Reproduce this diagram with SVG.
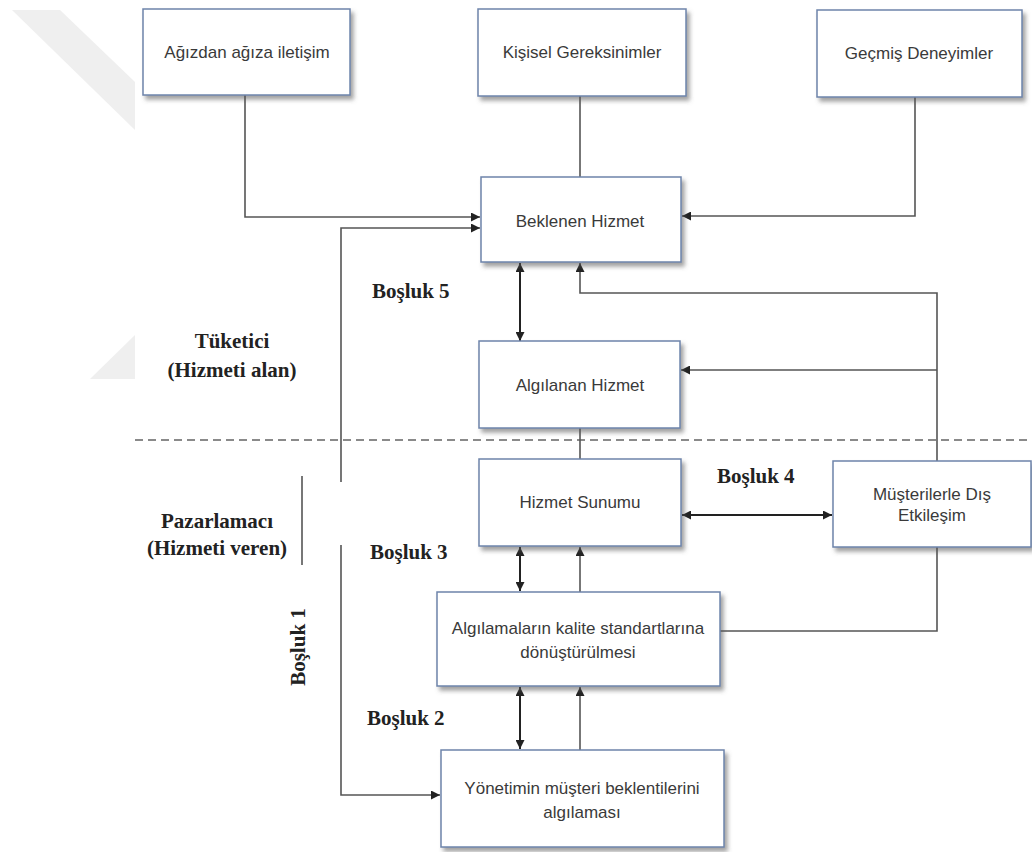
<svg xmlns="http://www.w3.org/2000/svg" width="1032" height="852" viewBox="0 0 1032 852">
<style>
.box{fill:#fff;stroke:#6d84ab;stroke-width:1.5;filter:url(#sh)}
.t{font-family:"Liberation Sans",Arial,sans-serif;font-size:17px;fill:#3a3a3a;text-anchor:middle}
.b{font-family:"Liberation Serif","Times New Roman",serif;font-size:21px;font-weight:bold;fill:#222}
.c{fill:none;stroke:#555;stroke-width:1.6}
.g{fill:none;stroke:#222;stroke-width:2}
</style>
<defs>
<filter id="sh" x="-10%" y="-10%" width="130%" height="140%">
<feDropShadow dx="3" dy="4" stdDeviation="2" flood-color="#555" flood-opacity="0.55"/>
</filter>
<marker id="a" viewBox="0 0 10 10" refX="10" refY="5" markerUnits="userSpaceOnUse" markerWidth="10" markerHeight="9" orient="auto-start-reverse">
<path d="M0,0 L10,5 L0,10 z" fill="#222"/>
</marker>
</defs>
<rect width="1032" height="852" fill="#fff"/>
<g id="watermark" fill="#efefef">
<polygon points="12,10 60,10 135,82 135,130"/>
<polygon points="135,335 135,379 90,379"/>
</g>
<line x1="135" y1="440" x2="1032" y2="440" stroke="#8a8a8a" stroke-width="2" stroke-dasharray="8,5"/>
<g id="connectors">
<path class="c" d="M245,95 V217 H480" marker-end="url(#a)"/>
<path class="c" d="M341,482 V228 H480" marker-end="url(#a)"/>
<path class="c" d="M341,545 V795 H440" marker-end="url(#a)"/>
<path class="c" d="M580,96 V177"/>
<path class="c" d="M915,97 V216 H682" marker-end="url(#a)"/>
<path class="g" d="M520,341 V263" marker-start="url(#a)" marker-end="url(#a)"/>
<path class="c" d="M937,461 V293 H580 V263" marker-end="url(#a)"/>
<path class="c" d="M937,370 H681" marker-end="url(#a)"/>
<path class="c" d="M580,428 V459"/>
<path class="g" d="M682,515 H832" marker-start="url(#a)" marker-end="url(#a)"/>
<path class="g" d="M520,547 V591" marker-start="url(#a)" marker-end="url(#a)"/>
<path class="c" d="M580,592 V547" marker-end="url(#a)"/>
<path class="g" d="M520,687 V749" marker-start="url(#a)" marker-end="url(#a)"/>
<path class="c" d="M580,750 V687" marker-end="url(#a)"/>
<path class="c" d="M937,547 V631 H720"/>
<path class="c" d="M302,476 V565"/>
</g>
<g id="n1"><rect class="box" x="143" y="9" width="207" height="86"/><text class="t" x="247" y="58">Ağızdan ağıza iletişim</text></g>
<g id="n2"><rect class="box" x="478" y="9" width="208" height="87"/><text class="t" x="582" y="58">Kişisel Gereksinimler</text></g>
<g id="n3"><rect class="box" x="817" y="10" width="205" height="87"/><text class="t" x="919" y="59">Geçmiş Deneyimler</text></g>
<g id="n4"><rect class="box" x="481" y="177" width="200" height="85"/><text class="t" x="580" y="227">Beklenen Hizmet</text></g>
<g id="n5"><rect class="box" x="479" y="341" width="201" height="87"/><text class="t" x="580" y="391">Algılanan Hizmet</text></g>
<g id="n6"><rect class="box" x="479" y="459" width="202" height="87"/><text class="t" x="580" y="508">Hizmet Sunumu</text></g>
<g id="n7"><rect class="box" x="833" y="461" width="198" height="86"/><text class="t" x="932" y="500">Müşterilerle Dış</text><text class="t" x="932" y="521">Etkileşim</text></g>
<g id="n8"><rect class="box" x="437" y="592" width="283" height="94"/><text class="t" x="578" y="634">Algılamaların kalite standartlarına</text><text class="t" x="578" y="658">dönüştürülmesi</text></g>
<g id="n9"><rect class="box" x="441" y="750" width="283" height="97"/><text class="t" x="582" y="794">Yönetimin müşteri beklentilerini</text><text class="t" x="582" y="818">algılaması</text></g>
<g id="labels">
<text class="b" x="372" y="298">Boşluk 5</text>
<text class="b" x="232" y="348" text-anchor="middle">Tüketici</text>
<text class="b" x="232" y="377" text-anchor="middle">(Hizmeti alan)</text>
<text class="b" x="217" y="528" text-anchor="middle">Pazarlamacı</text>
<text class="b" x="217" y="555" text-anchor="middle">(Hizmeti veren)</text>
<text class="b" x="717" y="483">Boşluk 4</text>
<text class="b" x="370" y="559">Boşluk 3</text>
<text class="b" x="367" y="725">Boşluk 2</text>
<text class="b" text-anchor="middle" transform="translate(305,647) rotate(-90)">Boşluk 1</text>
</g>
</svg>
